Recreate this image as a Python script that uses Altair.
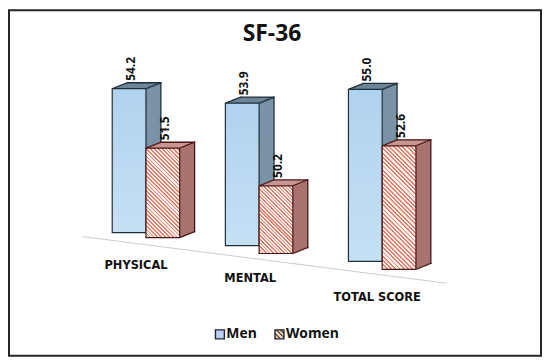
import json
import math
import altair as alt
import pandas as pd

# ---------------- data ----------------
TITLE = "SF-36"
CATEGORIES = ["PHYSICAL", "MENTAL", "TOTAL SCORE"]
SERIES = ["Men", "Women"]
MEN = [54.2, 53.9, 55.0]
WOMEN = [51.5, 50.2, 52.6]

rows = []
for i, c in enumerate(CATEGORIES):
    rows.append({"cat": c, "series": "Men", "value": MEN[i]})
    rows.append({"cat": c, "series": "Women", "value": WOMEN[i]})
df = pd.DataFrame(rows)

# ---------------- style ----------------
W, H = 536, 348
BAR_W = 34
Y_MIN, Y_MAX = 47, 56
PX = 20.35
Y_BASE = 224
X0 = 104
STEP = 119
DEPTH = 15
RISE = 0.4
EDGE_T = 1.3
HALF = EDGE_T / 2
XS = [0, -5, 0]          # perspective x shift per category
BASE = [0, 13, 29]       # perspective floor drop per category
WEX = [5, 8, 8]          # extra floor drop of the right bar
TOPX = [-1.5, 3, 10.5]   # perspective stretch per category
LAB_DX = [7, 3, 12]
LAB_DY = [34, 47, 66]
HATCH_DIV = [8, 9, 7]    # gradient table entries per stripe period

SIDE = {"Men": "#7b93a7", "Women": "#a8746f"}
TOPC = {"Men": "#6d8597", "Women": "#c79690"}
EDGE = {"Men": "#1e2f38", "Women": "#4a1416"}
FONT = "Open Sans"

cats_js = json.dumps(CATEGORIES)


def hatch(w, h, div=8, frac=0.45, c1="#e8806f", c2="#fdf1ec"):
    """Diagonal stripes drawn with a repeating linear gradient."""
    a = w / h
    s = (a + 1) / (a * a + 1)
    step = div / 256.0
    stops = []
    t0 = 0.0
    while t0 < 1 - 1e-9:
        t1 = min(t0 + frac * step, 1)
        t2 = min(t0 + step, 1)
        stops += [(t0, c1), (t1, c1), (t1, c2), (t2, c2)]
        t0 += step
    return alt.LinearGradient(
        gradient="linear", x1=0, y1=1, x2=s * a, y2=1 - s,
        stops=[alt.GradientStop(offset=round(o, 6), color=c) for o, c in stops],
    )


men_front = alt.LinearGradient(
    gradient="linear", x1=0, y1=0, x2=0, y2=1,
    stops=[alt.GradientStop(offset=0, color="#b0d2ee"),
           alt.GradientStop(offset=1, color="#c6e0f4")])

XSC = alt.Scale(domain=[0, 2], range=[X0, X0 + 2 * STEP], nice=False, zero=False)
YSC = alt.Scale(domain=[Y_MIN, Y_MAX], range=[Y_BASE, Y_BASE - (Y_MAX - Y_MIN) * PX],
                zero=False, nice=False)

base = alt.Chart(df).transform_calculate(
    idx=f"indexof({cats_js}, datum.cat)"
).transform_calculate(
    w="datum.series == 'Women' ? 1 : 0"
).transform_calculate(
    sx=f"{json.dumps(XS)}[datum.idx] + datum.w * {BAR_W}",
    sb=f"{json.dumps(BASE)}[datum.idx] + datum.w * {json.dumps(WEX)}[datum.idx]",
).transform_calculate(
    st=f"datum.sb - {json.dumps(TOPX)}[datum.idx]"
)


def rect(ch, L, wpx, T, B, t_from="value", b_from="base", **mark):
    tref = "datum.value" if t_from == "value" else str(Y_MIN)
    bref = "datum.value" if b_from == "value" else str(Y_MIN)
    return ch.transform_calculate(
        rx0=f"datum.idx + ({L}) / {STEP}",
        rx1=f"datum.idx + ({L} + {wpx}) / {STEP}",
        ry0=f"{tref} - ({T}) / {PX}",
        ry1=f"{bref} - ({B}) / {PX}",
    ).mark_rect(**mark).encode(
        x=alt.X("rx0:Q", scale=XSC, axis=None),
        x2=alt.X2("rx1"),
        y=alt.Y("ry0:Q", scale=YSC, axis=None),
        y2=alt.Y2("ry1"),
    )


def series_layers(s):
    b = base.transform_filter(f"datum.series == '{s}'")
    deep = b.transform_calculate(d=f"sequence({DEPTH}, 0, -1)").transform_flatten(["d"])
    dots = b.transform_calculate(d=f"sequence(1, {DEPTH + 1})").transform_flatten(["d"])
    out = []
    # side / extrusion
    out.append(rect(deep, "datum.sx + datum.d", BAR_W,
                    f"datum.st - {RISE}*datum.d", f"datum.sb - {RISE}*datum.d",
                    fill=SIDE[s], strokeWidth=0))
    # top face
    out.append(rect(deep, "datum.sx + datum.d", BAR_W,
                    f"datum.st - {RISE}*datum.d", f"datum.st - {RISE}*datum.d + 1.4",
                    b_from="value", fill=TOPC[s], strokeWidth=0))
    # back top edge
    out.append(rect(b, f"datum.sx + {DEPTH}", BAR_W,
                    f"datum.st - {RISE * DEPTH + HALF}", f"datum.st - {RISE * DEPTH - HALF}",
                    b_from="value", fill=EDGE[s], strokeWidth=0))
    # back right edge
    out.append(rect(b, f"datum.sx + {BAR_W + DEPTH - HALF}", EDGE_T,
                    f"datum.st - {RISE * DEPTH + HALF}", f"datum.sb - {RISE * DEPTH - HALF}",
                    fill=EDGE[s], strokeWidth=0))
    # diagonal edges (top-left, top-right)
    for cx in (0, BAR_W):
        out.append(rect(dots, f"datum.sx + {cx - HALF} + datum.d", EDGE_T,
                        f"datum.st - {RISE}*datum.d + {HALF}",
                        f"datum.st - {RISE}*datum.d - {HALF}",
                        b_from="value", fill=EDGE[s], strokeWidth=0))
    # bottom-right diagonal
    out.append(rect(dots, f"datum.sx + {BAR_W - HALF} + datum.d", EDGE_T,
                    f"datum.sb - {RISE}*datum.d + {HALF}",
                    f"datum.sb - {RISE}*datum.d - {HALF}",
                    t_from="base", fill=EDGE[s], strokeWidth=0))
    # front faces
    if s == "Men":
        out.append(rect(b, "datum.sx", BAR_W, "datum.st", "datum.sb",
                        fill=men_front, stroke=EDGE[s], strokeWidth=1.2))
    else:
        for k, c in enumerate(CATEGORIES):
            h = (WOMEN[k] - Y_MIN) * PX + TOPX[k]
            out.append(rect(b.transform_filter(f"datum.cat == '{c}'"),
                            "datum.sx", BAR_W, "datum.st", "datum.sb",
                            fill=hatch(BAR_W, h, div=HATCH_DIV[k]),
                            stroke=EDGE[s], strokeWidth=1.2))
    return out


floor = alt.Chart(pd.DataFrame({"k": [0]})).mark_rule(color="#cccccc", strokeWidth=1).encode(
    x=alt.value(74), x2=alt.value(441), y=alt.value(228), y2=alt.value(275))

title = alt.Chart(pd.DataFrame({"t": [TITLE]})).mark_text(
    font=FONT, fontSize=23, fontWeight="bold", color="#111111", baseline="middle"
).encode(x=alt.value(265), y=alt.value(24), text="t:N")

cat_labels = base.transform_filter("datum.series == 'Men'").transform_calculate(
    lx=f"datum.idx + ({BAR_W / 2} + {json.dumps(LAB_DX)}[datum.idx]) / {STEP}",
    ly=f"{Y_MIN} - {json.dumps(LAB_DY)}[datum.idx] / {PX}",
).mark_text(
    font="DejaVu Sans", fontSize=11.5, fontWeight="bold", color="#111111", baseline="middle",
).encode(x=alt.X("lx:Q", scale=XSC, axis=None), y=alt.Y("ly:Q", scale=YSC, axis=None),
         text="cat:N")

value_labels = base.transform_calculate(
    lx=f"datum.idx + (datum.sx + {BAR_W / 2 + 2}) / {STEP}",
    ly=f"datum.value - (datum.st - 8) / {PX}",
).mark_text(
    font=FONT, fontSize=12, fontWeight="bold", color="#111111",
    angle=270, align="left", baseline="middle",
).encode(x=alt.X("lx:Q", scale=XSC, axis=None), y=alt.Y("ly:Q", scale=YSC, axis=None),
         text=alt.Text("value:Q", format=".1f"))

leg = pd.DataFrame({"series": SERIES})
leg_men_sq = alt.Chart(leg).transform_filter("datum.series == 'Men'").mark_rect(
    fill="#b9cdee", stroke="#1e2433", strokeWidth=1.4
).encode(x=alt.value(208), x2=alt.value(217), y=alt.value(322), y2=alt.value(331))
leg_wom_sq = alt.Chart(leg).transform_filter("datum.series == 'Women'").mark_rect(
    fill=hatch(9, 9, div=64, frac=0.45, c1="#7a5646", c2="#eadbc2"),
    stroke="#1e2433", strokeWidth=1.4
).encode(x=alt.value(268), x2=alt.value(277), y=alt.value(322), y2=alt.value(331))
leg_men_tx = alt.Chart(leg).transform_filter("datum.series == 'Men'").mark_text(
    font=FONT, fontSize=14, fontWeight="bold", color="#111111", align="left", baseline="middle",
).encode(x=alt.value(219), y=alt.value(326), text="series:N")
leg_wom_tx = alt.Chart(leg).transform_filter("datum.series == 'Women'").mark_text(
    font=FONT, fontSize=14, fontWeight="bold", color="#111111", align="left", baseline="middle",
).encode(x=alt.value(279), y=alt.value(326), text="series:N")

layers = [floor, title, cat_labels] + series_layers("Men") + series_layers("Women") + [
    value_labels, leg_men_sq, leg_wom_sq, leg_men_tx, leg_wom_tx]

chart = alt.layer(*layers).properties(
    width=W, height=H,
    autosize=alt.AutoSizeParams(type="none"),
    padding={"left": 1, "top": 1, "right": 1, "bottom": 1},
    background="white",
).configure_view(stroke="#262626", strokeWidth=2)

chart.save("out.html", embed_options={"renderer": "svg", "actions": False})
